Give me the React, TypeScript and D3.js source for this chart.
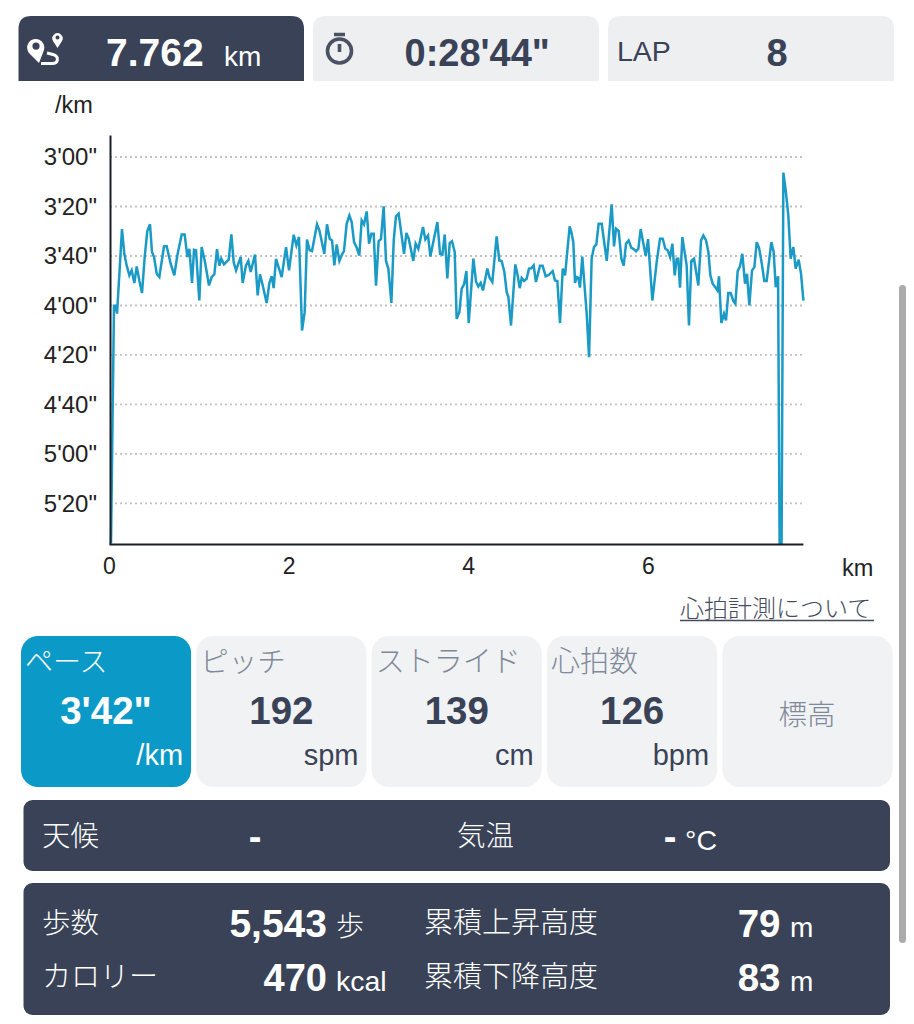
import React, { useEffect, useRef } from 'react';
import * as d3 from 'd3';

// distance (km) and pace (sec per km)
const paceKm = [
  0.017, 0.05, 0.069, 0.084, 0.11, 0.139, 0.165, 0.191, 0.221, 0.247, 0.277, 0.303, 0.332, 0.362, 0.392, 0.421, 0.451, 0.473, 0.496, 0.526,
  0.555, 0.607, 0.637, 0.681, 0.722, 0.755, 0.804, 0.837, 0.867, 0.889, 0.919, 0.941, 0.963, 1.0, 1.026, 1.064, 1.108, 1.138, 1.168, 1.197,
  1.223, 1.245, 1.275, 1.327, 1.357, 1.383, 1.409, 1.461, 1.483, 1.52, 1.546, 1.572, 1.62, 1.65, 1.676, 1.702, 1.75, 1.78, 1.806, 1.828,
  1.854, 1.917, 1.966, 1.999, 2.051, 2.081, 2.11, 2.144, 2.173, 2.199, 2.229, 2.255, 2.311, 2.337, 2.392, 2.422, 2.452, 2.478, 2.504, 2.53,
  2.56, 2.589, 2.611, 2.641, 2.671, 2.697, 2.723, 2.753, 2.782, 2.808, 2.834, 2.864, 2.89, 2.916, 2.942, 2.968, 2.997, 3.023, 3.053, 3.079,
  3.105, 3.139, 3.165, 3.19, 3.22, 3.28, 3.306, 3.332, 3.383, 3.409, 3.439, 3.491, 3.517, 3.547, 3.573, 3.651, 3.681, 3.707, 3.733, 3.762,
  3.788, 3.814, 3.844, 3.866, 3.896, 3.922, 3.948, 3.974, 4.0, 4.052, 4.082, 4.107, 4.133, 4.159, 4.207, 4.233, 4.263, 4.311, 4.341, 4.367,
  4.397, 4.423, 4.442, 4.471, 4.519, 4.545, 4.568, 4.59, 4.616, 4.645, 4.671, 4.697, 4.723, 4.749, 4.794, 4.823, 4.857, 4.887, 4.935, 4.961,
  4.987, 5.017, 5.047, 5.073, 5.124, 5.143, 5.165, 5.184, 5.202, 5.221, 5.239, 5.265, 5.291, 5.314, 5.34, 5.369, 5.395, 5.421, 5.447, 5.481,
  5.537, 5.592, 5.618, 5.64, 5.67, 5.7, 5.726, 5.752, 5.781, 5.811, 5.833, 5.863, 5.889, 5.915, 5.945, 5.971, 5.997, 6.045, 6.093, 6.13,
  6.16, 6.19, 6.216, 6.242, 6.268, 6.294, 6.316, 6.334, 6.353, 6.379, 6.427, 6.453, 6.479, 6.509, 6.557, 6.587, 6.613, 6.643, 6.669, 6.691,
  6.717, 6.769, 6.787, 6.813, 6.843, 6.865, 6.891, 6.917, 6.947, 6.969, 6.995, 7.021, 7.047, 7.077, 7.099, 7.125, 7.155, 7.181, 7.207, 7.233,
  7.263, 7.292, 7.318, 7.37, 7.396, 7.419, 7.445, 7.462, 7.484, 7.504, 7.53, 7.559, 7.585, 7.615, 7.641, 7.674, 7.701, 7.727,
];
const paceSec = [
  336, 240.1, 240.1, 243.3, 227.2, 209.1, 219.1, 223.8, 227.8, 225.8, 230.9, 224.2, 229.9, 235, 220.4, 209.9, 207.2, 218.4, 220.4, 227.2,
  228.5, 216.1, 216.1, 223.1, 227.8, 219.8, 211.3, 211.3, 220.4, 217.1, 230.9, 217.5, 217.7, 238, 216.4, 222.5, 231.9, 228.5, 227.4, 217.2,
  223.9, 221.1, 223.4, 221.5, 211.3, 222.5, 225.8, 220.4, 230.9, 223.8, 222, 226.5, 219.4, 235.9, 227.4, 231.2, 239, 230.9, 228.2, 233,
  221.2, 228.5, 216.4, 225.8, 211.4, 215.7, 212.3, 250.1, 242.7, 213.4, 217.7, 218, 207.2, 209.6, 219.1, 207.2, 213, 213.7, 223.8, 215.3,
  222, 219.4, 218, 207, 203.6, 206.3, 214.4, 216.7, 219.8, 205.6, 207.2, 202, 215, 211, 211, 232, 214, 213.2, 199.9, 222,
  225.1, 239, 213.7, 204, 202.9, 219.1, 210.7, 213, 222, 215, 217.1, 208.3, 213.3, 211.7, 220.2, 206.3, 219.1, 219.4, 211.3, 229.1,
  214.8, 214, 218.4, 245.4, 242.7, 233.2, 231.5, 226.1, 247.1, 221.1, 230.5, 232.3, 230.9, 233.9, 225.1, 228.8, 230.5, 212.1, 221.8, 222,
  226.5, 234.6, 236.6, 248.1, 223.4, 227.8, 233, 228.9, 230.1, 229.2, 225.1, 225, 223.8, 230.5, 223.9, 223.9, 228.2, 227.8, 226.1, 229.9,
  230.1, 247.1, 225.1, 227.8, 208, 210.3, 214.4, 230.9, 228.5, 228.8, 232.8, 220.2, 232.6, 243.3, 260.9, 221.1, 216.4, 215.3, 207, 207,
  222, 199.1, 216.1, 209, 209.9, 221.1, 223.9, 215, 213.7, 216.7, 217.1, 218.1, 217.1, 209.1, 215, 219.9, 213.2, 238, 222.5, 213,
  213, 217.1, 217.7, 220.4, 215, 227.8, 221.1, 221.1, 232.8, 212.3, 223.8, 248.1, 222, 221.1, 231.9, 213.7, 211.7, 213.7, 218.4, 227.8,
  231.2, 233.9, 228.2, 247.1, 243.3, 246, 235, 235, 238.2, 239.3, 226.1, 224.2, 219.1, 231.2, 227.2, 240, 225.8, 224.5, 214.4, 216.7,
  222.9, 230.1, 230.1, 214.4, 218.4, 232.6, 228.2, 336, 336, 186.3, 193.5, 203.6, 221.1, 216.4, 225.1, 221.5, 227.2, 238,
];

const xTicks = [0, 2, 4, 6];
const yTicks = [180, 200, 220, 240, 260, 280, 300, 320];

const metricLabels = ['ペース', 'ピッチ', 'ストライド', '心拍数'];
const metricValues = ['3\'42"', '192', '139', '126'];
const metricUnits = ['/km', 'spm', 'cm', 'bpm'];

const DARK = '#394256';
const BLUE = '#0b9ac7';
const FONT = '"Liberation Sans", "Noto Sans CJK JP", sans-serif';
const CJK = '"Noto Sans CJK JP", sans-serif';

// rectangle with only the top corners rounded
const tabPath = (x: number, y: number, w: number, h: number, r: number) =>
  `M${x},${y + h}V${y + r}Q${x},${y} ${x + r},${y}H${x + w - r}Q${x + w},${y} ${x + w},${y + r}V${y + h}Z`;

const formatPace = (s: number) => `${Math.floor(s / 60)}'${String(s % 60).padStart(2, '0')}"`;

const App: React.FC = () => {
  const chartRef = useRef<SVGGElement>(null);

  useEffect(() => {
    if (!chartRef.current) return;
    const g = d3.select(chartRef.current);
    g.selectAll('*').remove();

    const xScale = d3.scaleLinear().domain([0, 7.727]).range([109.5, 803.4]);
    const yScale = d3.scaleLinear().domain([171.1, 336.4]).range([135, 544]);

    // dotted grid
    g.selectAll('.grid')
      .data(yTicks)
      .enter().append('line')
      .attr('class', 'grid')
      .attr('x1', 110)
      .attr('x2', 804)
      .attr('y1', d => yScale(d))
      .attr('y2', d => yScale(d))
      .attr('stroke', '#c2c2c2')
      .attr('stroke-width', 1.8)
      .attr('stroke-dasharray', '2 3');

    const line = d3.line<number>()
      .x((_, i) => xScale(paceKm[i]))
      .y(d => yScale(d));

    g.append('path')
      .datum(paceSec)
      .attr('fill', 'none')
      .attr('stroke', '#1a9ac5')
      .attr('stroke-width', 2.5)
      .attr('stroke-linejoin', 'miter')
      .attr('d', line);

    const yAxis = g.append('g')
      .attr('transform', 'translate(110,0)')
      .call(d3.axisLeft(yScale).tickValues(yTicks).tickFormat(d => formatPace(+d)).tickSize(0).tickPadding(13));
    const xAxis = g.append('g')
      .attr('transform', 'translate(-0.5,544)')
      .call(d3.axisBottom(xScale).tickValues(xTicks).tickFormat(d3.format('d')).tickSize(0).tickPadding(14));

    yAxis.attr('font-family', FONT).attr('font-size', 24);
    xAxis.attr('font-family', FONT).attr('font-size', 23);
    [yAxis, xAxis].forEach(axis => {
      axis.select('.domain').attr('stroke', '#1c1f28').attr('stroke-width', 2);
      axis.selectAll('text').attr('fill', '#222');
    });
  }, []);

  const cardX = d3.scaleBand<number>().domain(d3.range(5)).range([21, 892.5]).paddingInner(0.03);
  const cardW = cardX.bandwidth();
  const labelSizes = [28, 28.5, 29, 29];

  return (
    <svg width={914} height={1024} style={{ position: 'absolute', left: 0, top: 0, background: '#fff' }} fontFamily={FONT}>
      {/* header tabs */}
      <path d={tabPath(18.5, 16, 285.5, 65, 13)} fill={DARK} />
      <path d={tabPath(313, 16, 286, 65, 13)} fill="#eeeff1" />
      <path d={tabPath(608, 16, 286, 65, 13)} fill="#eeeff1" />

      <g fill="#fff">
        <path
          fillRule="evenodd"
          d="M39,63 L30,54 A8.6,8.6 0 1 1 44,50 Z M36,42.5 A3.6,3.6 0 1 0 36,49.7 A3.6,3.6 0 1 0 36,42.5 Z"
        />
        <path
          fillRule="evenodd"
          d="M57.5,48 L53,41 A5.2,5.2 0 1 1 62,41 Z M57.5,35.5 A2,2 0 1 0 57.5,39.5 A2,2 0 1 0 57.5,35.5 Z"
        />
      </g>
      <path d="M41,63.5 H52 C59,63.5 59,56 53,54.5 L47,53" fill="none" stroke="#fff" strokeWidth={3} />
      <text x={106} y={66} fontSize={39} fontWeight={700} fill="#fff">7.762</text>
      <text x={224} y={66} fontSize={28} fill="#fff">km</text>

      <g fill="none" stroke="#4a5163" strokeWidth={3.6}>
        <circle cx={339.5} cy={51} r={12} />
        <path d="M334,34.5 H345 M339.5,44 V52" />
      </g>
      <text x={404.5} y={66} fontSize={38} fontWeight={700} fill={DARK}>0:28'44"</text>
      <text x={617} y={61} fontSize={28.5} fill={DARK}>LAP</text>
      <text x={777} y={66} fontSize={38} fontWeight={700} fill={DARK} textAnchor="middle">8</text>

      {/* pace chart */}
      <text x={55} y={113} fontSize={23.5} fill="#222">/km</text>
      <g ref={chartRef} />
      <text x={842} y={576} fontSize={23.5} fill="#222">km</text>
      <text x={680} y={617} fontSize={24} fontFamily={CJK} fontWeight={300} fill="#444b5e">心拍計測について</text>
      <line x1={680} x2={874} y1={620.5} y2={620.5} stroke="#444b5e" strokeWidth={1.4} />

      {/* metric cards */}
      {metricLabels.map((label, i) => {
        const x = cardX(i) as number;
        const active = i === 0;
        return (
          <g key={label}>
            <rect x={x} y={636} width={cardW} height={151} rx={17} fill={active ? BLUE : '#f1f2f4'} />
            <text x={x + 4} y={672} fontSize={labelSizes[i]} fontFamily={CJK} fontWeight={300} fill={active ? '#fff' : '#7f8999'}>{label}</text>
            <text x={x + cardW / 2} y={724} fontSize={38.5} fontWeight={700} textAnchor="middle" fill={active ? '#fff' : DARK}>{metricValues[i]}</text>
            <text x={x + cardW - 8} y={765} fontSize={29} textAnchor="end" fill={active ? '#fff' : DARK}>{metricUnits[i]}</text>
          </g>
        );
      })}
      <rect x={cardX(4)} y={636} width={cardW} height={151} rx={17} fill="#f1f2f4" />
      <text x={807} y={725} fontSize={28.5} fontFamily={CJK} fontWeight={300} textAnchor="middle" fill="#7f8999">標高</text>

      {/* weather */}
      <rect x={23.5} y={800} width={866.5} height={71} rx={9} fill={DARK} />
      <g fill="#fff">
        <text x={42} y={846} fontSize={28.5} fontFamily={CJK} fontWeight={300}>天候</text>
        <text x={255} y={850} fontSize={38} fontWeight={700} textAnchor="middle">-</text>
        <text x={457} y={846} fontSize={28.5} fontFamily={CJK} fontWeight={300}>気温</text>
        <text x={670} y={850} fontSize={38} fontWeight={700} textAnchor="middle">-</text>
        <text x={685} y={850} fontSize={28.5}>°C</text>
      </g>

      {/* totals */}
      <rect x={23.5} y={883} width={866.5} height={132} rx={9} fill={DARK} />
      <g fill="#fff">
        <text x={42} y={933} fontSize={28.5} fontFamily={CJK} fontWeight={300}>歩数</text>
        <text x={327} y={937} fontSize={39} fontWeight={700} textAnchor="end">5,543</text>
        <text x={336} y={936} fontSize={28} fontFamily={CJK} fontWeight={300}>歩</text>
        <text x={424} y={933} fontSize={29} fontFamily={CJK} fontWeight={300}>累積上昇高度</text>
        <text x={780.5} y={937} fontSize={38.5} fontWeight={700} textAnchor="end">79</text>
        <text x={790} y={937} fontSize={28}>m</text>
        <text x={42} y={987} fontSize={29} fontFamily={CJK} fontWeight={300}>カロリー</text>
        <text x={327} y={991} fontSize={38} fontWeight={700} textAnchor="end">470</text>
        <text x={336} y={991} fontSize={28.5}>kcal</text>
        <text x={424} y={987} fontSize={29} fontFamily={CJK} fontWeight={300}>累積下降高度</text>
        <text x={780.5} y={991} fontSize={38.5} fontWeight={700} textAnchor="end">83</text>
        <text x={790} y={991} fontSize={28}>m</text>
      </g>

      {/* scroll bar */}
      <rect x={899} y={285} width={7} height={658} rx={3.5} fill="#ababab" />
    </svg>
  );
};

export default App;
